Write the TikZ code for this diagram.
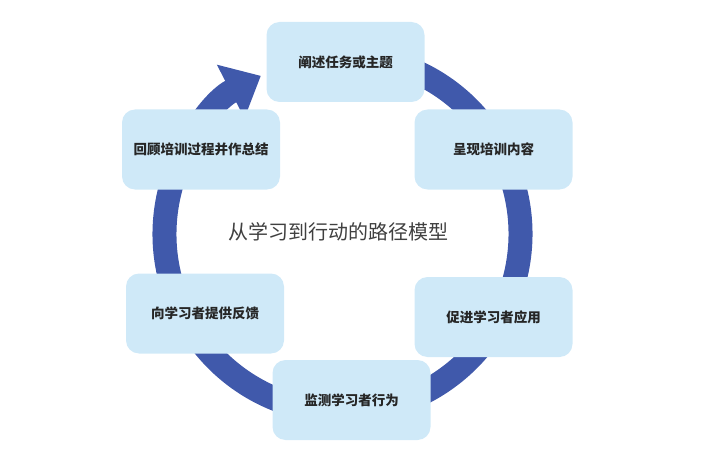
\documentclass[tikz,border=0pt]{standalone}
\usepackage{fontspec}
\newfontfamily\cjk{Noto Sans CJK SC}
\usetikzlibrary{arrows.meta}
\definecolor{ringblue}{RGB}{64,89,171}
\definecolor{boxblue}{RGB}{207,233,248}

\tikzset{
  stage/.style={fill=boxblue, rounded corners=13pt, minimum width=158pt,
    minimum height=80pt, inner sep=0pt, text=black!85,
    font=\cjk\bfseries\fontsize{13.5}{16}\selectfont},
  ring/.style={draw=ringblue, line width=24pt,
    -{Triangle[width=58pt,length=34pt]}}
}

\begin{document}
\begin{tikzpicture}[x=1pt, y=1pt]
  \useasboundingbox (0,0) rectangle (713,459);
  % Ring with arrow
  \def\R{178}     % mid radius of ring
  \def\Ta{80}     % start angle (behind top box)
  \def\Tb{-242.7} % tip angle, one turn clockwise
  \coordinate (hub) at (342.5,225);
  \draw[ring] ([shift={(\Ta:\R)}]hub) arc[start angle=\Ta, end angle=\Tb, radius=\R];

  % Stage boxes
  \node[stage] (task)    at (345.5,397)   {阐述任务或主题};
  \node[stage] (present) at (493.5,309.5) {呈现培训内容};
  \node[stage] (apply)   at (493.5,142)   {促进学习者应用};
  \node[stage] (monitor) at (351.5,59)    {监测学习者行为};
  \node[stage] (feedback) at (205,145.5)  {向学习者提供反馈};
  \node[stage] (review)  at (201,309.5)   {回顾培训过程并作总结};

  % Title
  \node[text=black!75, font=\cjk\fontsize{20}{24}\selectfont] (title) at (338,227) {从学习到行动的路径模型};
\end{tikzpicture}
\end{document}
